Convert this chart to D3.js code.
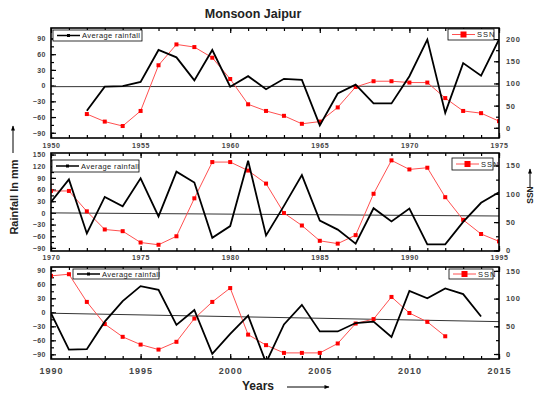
<!DOCTYPE html>
<html>
<head>
<meta charset="utf-8">
<script src="https://cdn.jsdelivr.net/npm/d3@7/dist/d3.min.js"></script>
<style>
  body { margin: 0; background: #fff; }
  text { font-family: "Liberation Sans", Arial, sans-serif; }
</style>
</head>
<body>
<svg id="chart" width="534" height="394"></svg>
<script>
// ---- data ----
const years1 = d3.range(1952, 1976);
const rain1 = [-48, -2, -1, 7, 68, 54, 10, 68, -2, 18, -7, 13, 11, -76, -15, 2, -34, -34, 18, 88, -52, 43, 19, 88];
const ssn1 = [31, 14, 4, 38, 141, 188, 182, 158, 110, 53, 38, 27, 9, 14, 46, 92, 105, 105, 102, 102, 67, 38, 33, 15];

const years2 = d3.range(1970, 1996);
const rain2 = [28, 86, -53, 41, 17, 89, -9, 106, 78, -64, -34, 134, -58, 18, 97, -20, -43, -79, 12, -22, 11, -81, -81, -23, 26, 53];
const ssn2 = [105, 105, 69, 37, 34, 14, 10, 25, 92, 156, 156, 141, 118, 66, 44, 17, 12, 27, 100, 159, 143, 146, 94, 54, 29, 16];

const rainYears3 = d3.range(1990, 2015);
const rain3 = [-2, -80, -79, -20, 24, 56, 48, -27, 5, -89, -46, -7, -108, -26, 16, -41, -41, -23, -20, -53, 46, 30, 51, 39, -9];
const ssnYears3 = d3.range(1990, 2013);
const ssn3 = [141, 144, 94, 54, 31, 17, 8, 22, 64, 94, 119, 35, 16, 2, 2, 2, 19, 55, 63, 103, 74, 58, 32];

// linear trend of rainfall, value at first and last year of the axis
const trend1 = [-2, -1];
const trend2 = [0, -8];
const trend3 = [-2, -20];

const xSpans = [[1950, 1975], [1970, 1995], [1990, 2015]];
const leftTicks = [d3.range(-90, 91, 30), d3.range(-90, 151, 30), d3.range(-90, 91, 30)];
const rightTicks = [d3.range(0, 201, 50), d3.range(0, 151, 50), d3.range(0, 151, 50)];

// ---- layout ----
const svg = d3.select('#chart');
const left = 51, right = 499;

const panels = [
  { top: 28, bottom: 138, yL: [-100, 110], yR: [-23, 225], xPad: 5, xFont: 7,
    rainBox: [53, 30, 89, 11], ssnBox: [448, 29, 46, 11],
    years: years1, rain: rain1, ssnYears: years1, ssn: ssn1, trend: trend1 },
  { top: 153, bottom: 251, yL: [-98, 154], yR: [-1, 172], xPad: 4, xFont: 7,
    rainBox: [52, 160, 87, 12], ssnBox: [452, 158, 41, 12],
    years: years2, rain: rain2, ssnYears: years2, ssn: ssn2, trend: trend2 },
  { top: 267, bottom: 359, yL: [-100, 97], yR: [-9, 157], xPad: 9, xFont: 9,
    rainBox: [73, 269, 86, 10], ssnBox: [449, 269, 44, 10],
    years: rainYears3, rain: rain3, ssnYears: ssnYears3, ssn: ssn3, trend: trend3 }
];

function styleAxis(g, size, spacing) {
  g.select('.domain').remove();
  g.selectAll('.tick line').attr('stroke', '#000').attr('stroke-width', 1.2);
  g.selectAll('text').attr('fill', '#444').attr('font-size', size)
    .attr('font-weight', 'bold').attr('letter-spacing', spacing);
}

panels.forEach((p, i) => {
  const span = xSpans[i];
  const x = d3.scaleLinear().domain(span).range([left, right]);
  const yL = d3.scaleLinear().domain(p.yL).range([p.bottom, p.top]);
  const yR = d3.scaleLinear().domain(p.yR).range([p.bottom, p.top]);
  const g = svg.append('g');

  const clipId = 'clip' + i;
  svg.append('clipPath').attr('id', clipId)
    .append('rect').attr('x', left).attr('y', p.top)
    .attr('width', right - left).attr('height', p.bottom - p.top);

  const majorX = d3.range(span[0], span[1] + 1, 5);
  const minorX = d3.range(span[0], span[1] + 1, 1);

  // bottom axis
  g.append('g').attr('transform', `translate(0,${p.bottom})`)
    .call(d3.axisBottom(x).tickValues(majorX).tickFormat(d3.format('d')).tickSize(-5).tickPadding(p.xPad))
    .call(a => styleAxis(a, p.xFont, p.xFont > 8 ? 1 : 0.6));
  g.append('g').attr('transform', `translate(0,${p.bottom})`)
    .call(d3.axisBottom(x).tickValues(minorX).tickFormat('').tickSize(-3))
    .call(a => styleAxis(a, 7, 0));
  // top axis (mirror)
  g.append('g').attr('transform', `translate(0,${p.top})`)
    .call(d3.axisTop(x).tickValues(majorX).tickFormat('').tickSize(-5))
    .call(a => styleAxis(a, 7, 0));
  g.append('g').attr('transform', `translate(0,${p.top})`)
    .call(d3.axisTop(x).tickValues(minorX).tickFormat('').tickSize(-3))
    .call(a => styleAxis(a, 7, 0));

  // left axis
  const lt = leftTicks[i];
  const lMinor = d3.range(lt[0], lt[lt.length - 1] + 1, 15);
  g.append('g').attr('transform', `translate(${left},0)`)
    .call(d3.axisLeft(yL).tickValues(lt).tickSize(-5).tickPadding(5))
    .call(a => styleAxis(a, 7, 0.5));
  g.append('g').attr('transform', `translate(${left},0)`)
    .call(d3.axisLeft(yL).tickValues(lMinor).tickFormat('').tickSize(-3))
    .call(a => styleAxis(a, 7, 0));

  // right axis
  const rt = rightTicks[i];
  const rMinor = d3.range(rt[0], rt[rt.length - 1] + 1, 25);
  g.append('g').attr('transform', `translate(${right},0)`)
    .call(d3.axisRight(yR).tickValues(rt).tickSize(-5).tickPadding(7))
    .call(a => styleAxis(a, 7.5, 0.7));
  g.append('g').attr('transform', `translate(${right},0)`)
    .call(d3.axisRight(yR).tickValues(rMinor).tickFormat('').tickSize(-3))
    .call(a => styleAxis(a, 7, 0));

  const plot = g.append('g').attr('clip-path', `url(#${clipId})`);

  // trend line
  plot.append('line')
    .attr('x1', x(span[0])).attr('y1', yL(p.trend[0]))
    .attr('x2', x(span[1])).attr('y2', yL(p.trend[1]))
    .attr('stroke', '#333').attr('stroke-width', 1);

  // SSN
  const ssnPts = p.ssnYears.map((yr, k) => [yr, p.ssn[k]]);
  plot.append('path').datum(ssnPts)
    .attr('fill', 'none').attr('stroke', '#ff5050').attr('stroke-width', 1)
    .attr('d', d3.line().x(d => x(d[0])).y(d => yR(d[1])));
  plot.selectAll('.sq').data(ssnPts).enter().append('rect')
    .attr('x', d => x(d[0]) - 2).attr('y', d => yR(d[1]) - 2)
    .attr('width', 4).attr('height', 4).attr('fill', '#ff0000');

  // rainfall
  const rainPts = p.years.map((yr, k) => [yr, p.rain[k]]);
  plot.append('path').datum(rainPts)
    .attr('fill', 'none').attr('stroke', '#000').attr('stroke-width', 1.8)
    .attr('stroke-linejoin', 'miter')
    .attr('d', d3.line().x(d => x(d[0])).y(d => yL(d[1])));

  // frame
  g.append('rect').attr('x', left).attr('y', p.top)
    .attr('width', right - left).attr('height', p.bottom - p.top)
    .attr('fill', 'none').attr('stroke', '#000').attr('stroke-width', 1.6);

  // legends
  const rb = p.rainBox;
  const lg1 = g.append('g');
  lg1.append('rect').attr('x', rb[0]).attr('y', rb[1]).attr('width', rb[2]).attr('height', rb[3])
    .attr('fill', '#fff').attr('stroke', '#000').attr('stroke-width', 0.8);
  const cy1 = rb[1] + rb[3] / 2;
  lg1.append('line').attr('x1', rb[0] + 4).attr('x2', rb[0] + 27).attr('y1', cy1).attr('y2', cy1)
    .attr('stroke', '#000').attr('stroke-width', 1.5);
  lg1.append('rect').attr('x', rb[0] + 14).attr('y', cy1 - 1.5).attr('width', 3).attr('height', 3).attr('fill', '#000');
  lg1.append('text').attr('x', rb[0] + 29).attr('y', cy1 + 2.6).text('Average rainfall')
    .attr('font-size', 7.5).attr('fill', '#222').attr('letter-spacing', 0.4);

  const sb = p.ssnBox;
  const lg2 = g.append('g');
  lg2.append('rect').attr('x', sb[0]).attr('y', sb[1]).attr('width', sb[2]).attr('height', sb[3])
    .attr('fill', '#fff').attr('stroke', '#000').attr('stroke-width', 0.8);
  const cy2 = sb[1] + sb[3] / 2;
  lg2.append('line').attr('x1', sb[0] + 4).attr('x2', sb[0] + 27).attr('y1', cy2).attr('y2', cy2)
    .attr('stroke', '#ff5050').attr('stroke-width', 1);
  lg2.append('rect').attr('x', sb[0] + 12.5).attr('y', cy2 - 3).attr('width', 6).attr('height', 6).attr('fill', '#ff0000');
  lg2.append('text').attr('x', sb[0] + 29).attr('y', cy2 + 2.6).text('SSN')
    .attr('font-size', 7.5).attr('fill', '#222').attr('letter-spacing', 1);
});

// ---- titles ----
svg.append('text').attr('x', 253).attr('y', 18).attr('text-anchor', 'middle')
  .attr('font-size', 12.5).attr('font-weight', 'bold').attr('fill', '#222').text('Monsoon Jaipur');

svg.append('defs').append('marker').attr('id', 'arrow')
  .attr('viewBox', '0 0 10 10').attr('refX', 9).attr('refY', 5)
  .attr('markerWidth', 6).attr('markerHeight', 5).attr('orient', 'auto')
  .append('path').attr('d', 'M0,1 L10,5 L0,9 Z').attr('fill', '#000');

// left label
svg.append('text').attr('transform', 'translate(18,197) rotate(-90)').attr('text-anchor', 'middle')
  .attr('font-size', 11).attr('font-weight', 'bold').attr('fill', '#222').text('Rainfall In mm');
svg.append('line').attr('x1', 13).attr('x2', 13).attr('y1', 153).attr('y2', 126)
  .attr('stroke', '#000').attr('stroke-width', 1).attr('marker-end', 'url(#arrow)');

// right label
svg.append('text').attr('transform', 'translate(533,195) rotate(-90)').attr('text-anchor', 'middle')
  .attr('font-size', 8.5).attr('font-weight', 'bold').attr('fill', '#222').text('SSN');
svg.append('line').attr('x1', 530).attr('x2', 530).attr('y1', 187).attr('y2', 169)
  .attr('stroke', '#000').attr('stroke-width', 1).attr('marker-end', 'url(#arrow)');

// x label
svg.append('text').attr('x', 242).attr('y', 390)
  .attr('font-size', 12).attr('font-weight', 'bold').attr('fill', '#222').text('Years');
svg.append('line').attr('x1', 287).attr('x2', 329).attr('y1', 387).attr('y2', 387)
  .attr('stroke', '#000').attr('stroke-width', 1).attr('marker-end', 'url(#arrow)');
</script>
</body>
</html>
